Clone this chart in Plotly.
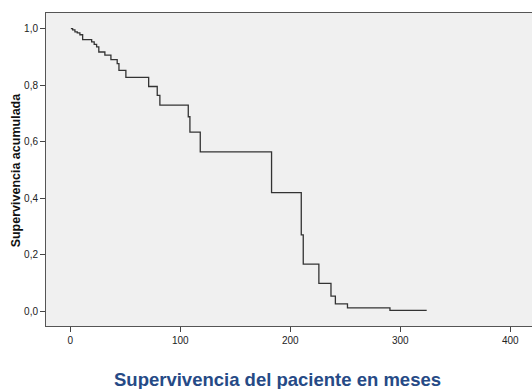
import plotly.graph_objects as go

# Kaplan-Meier step points (time in months, cumulative survival)
times = [0.6, 2.2, 4.3, 6.4, 8.8, 11.3, 19.5, 21.8, 24, 26, 31.5, 37, 42.7, 44.3,
         50.6, 71.3, 79.1, 81.5, 107.3, 108.8, 118.2, 183, 210, 211.8, 226, 237,
         241, 252, 290.6, 324]
surv = [1.0, 0.995, 0.988, 0.985, 0.978, 0.961, 0.953, 0.944, 0.935, 0.917, 0.906,
        0.890, 0.876, 0.852, 0.827, 0.795, 0.764, 0.729, 0.688, 0.634, 0.564, 0.420,
        0.270, 0.167, 0.099, 0.054, 0.026, 0.012, 0.0035, 0.0035]

x_ticks = [0, 100, 200, 300, 400]
y_ticks = [0.0, 0.2, 0.4, 0.6, 0.8, 1.0]

fig = go.Figure()
fig.add_trace(go.Scatter(
    x=times, y=surv, mode="lines", line=dict(shape="hv", color="#333333", width=1.3),
    hoverinfo="skip", showlegend=False))

fig.update_layout(
    width=532, height=389,
    margin=dict(l=46, r=0, t=13, b=63),
    paper_bgcolor="white", plot_bgcolor="#F0F0F0",
    separators=",.",
    font=dict(family="Liberation Sans, Arial, sans-serif", size=10, color="#222222"),
    showlegend=False,
)
fig.update_xaxes(
    range=[-22, 419.7], tickvals=x_ticks, ticks="outside", ticklen=5, tickcolor="#444444",
    showgrid=False, zeroline=False, showline=True, linecolor="#555555", linewidth=1,
    mirror=True, tickfont=dict(size=10, color="#222222"))
fig.update_yaxes(
    range=[-0.052, 1.055], tickvals=y_ticks, tickformat=".1f", ticks="outside", ticklen=5,
    tickcolor="#444444", showgrid=False, zeroline=False, showline=True,
    linecolor="#555555", linewidth=1, tickfont=dict(size=10, color="#222222"))

fig.add_annotation(
    text="<b>Supervivencia del paciente en meses</b>", xref="paper", yref="paper",
    x=0.476, y=-0.17, xanchor="center", yanchor="middle", showarrow=False,
    font=dict(family="Liberation Sans, Arial, sans-serif", size=18.5, color="#264A86"))
fig.add_annotation(
    text="<b>Supervivencia acumulada</b>", xref="paper", yref="paper",
    x=-0.062, y=0.5, xanchor="center", yanchor="middle", textangle=-90, showarrow=False,
    font=dict(family="Liberation Sans, Arial, sans-serif", size=12.5, color="#111111"))

fig.write_html("out.html")
